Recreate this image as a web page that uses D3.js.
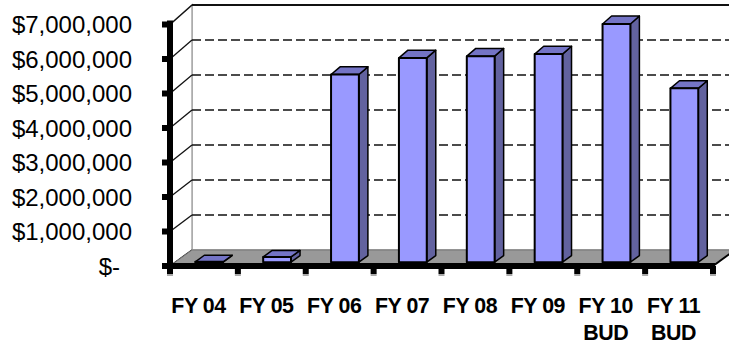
<!DOCTYPE html>
<html>
<head>
<meta charset="utf-8">
<script src="https://cdnjs.cloudflare.com/ajax/libs/d3/7.8.5/d3.min.js"></script>
<style>
  html, body { margin: 0; padding: 0; background: #fff; }
  svg { display: block; }
  text { font-family: Arial, 'Liberation Sans', sans-serif; fill: #000; }
</style>
</head>
<body>
<svg id="chart"></svg>
<script>
// chart data
let categories = ['FY 04', 'FY 05', 'FY 06', 'FY 07', 'FY 08', 'FY 09', 'FY 10 BUD', 'FY 11 BUD'];
let labelLines = [['FY 04'], ['FY 05'], ['FY 06'], ['FY 07'], ['FY 08'], ['FY 09'], ['FY 10', 'BUD'], ['FY 11', 'BUD']];
let values = [10000, 150000, 5420000, 5900000, 5950000, 6010000, 6880000, 5020000];
let tickValues = [0, 1000000, 2000000, 3000000, 4000000, 5000000, 6000000, 7000000];
let tickLabels = ['$-', '$1,000,000', '$2,000,000', '$3,000,000', '$4,000,000', '$5,000,000', '$6,000,000', '$7,000,000'];

let width = 729;
let height = 346;
let depthX = 22;      // how far the back wall sits to the right
let barFront = 0.24;  // bar depth, as fraction of the floor depth
let barBack = 0.65;

let svg = d3.select('#chart').attr('width', width).attr('height', height);

let xScale = d3.scaleBand().domain(categories).range([170, 713]).padding(0);
let yFront = d3.scaleLinear().domain([0, 7000000]).range([266, 24.5]);
let yBack = d3.scaleLinear().domain([0, 7000000]).range([250, 5]);

// point in the 3d box: x on front plane, value, depth fraction
let pt = (x, v, f) => [x + f * depthX, yFront(v) * (1 - f) + yBack(v) * f];
let poly = (pts) => pts.map((p) => p.join(',')).join(' ');

let x0 = xScale.range()[0];
let x1 = xScale.range()[1];
let vMax = 7000000;

// back wall
svg.append('polygon')
    .attr('points', poly([pt(x0, 0, 1), pt(x1, 0, 1), pt(x1, vMax, 1), pt(x0, vMax, 1)]))
    .attr('fill', '#fff')
    .attr('stroke', '#999')
    .attr('stroke-width', 1.5);

// left wall
svg.append('polygon')
    .attr('points', poly([pt(x0, 0, 0), pt(x0, 0, 1), pt(x0, vMax, 1), pt(x0, vMax, 0)]))
    .attr('fill', '#fff')
    .attr('stroke', '#aaa')
    .attr('stroke-width', 1.5);

// top edge of back wall
svg.append('line')
    .attr('x1', pt(x0, vMax, 1)[0]).attr('y1', pt(x0, vMax, 1)[1])
    .attr('x2', pt(x1, vMax, 1)[0]).attr('y2', pt(x1, vMax, 1)[1])
    .attr('stroke', '#111')
    .attr('stroke-width', 2);

// dashed gridlines on back wall
svg.selectAll('.grid')
    .data(tickValues.filter((v) => v > 0 && v < vMax))
    .enter()
    .append('line')
    .attr('class', 'grid')
    .attr('x1', (v) => pt(x0, v, 1)[0])
    .attr('y1', (v) => pt(x0, v, 1)[1])
    .attr('x2', (v) => pt(x1, v, 1)[0])
    .attr('y2', (v) => pt(x1, v, 1)[1])
    .attr('stroke', '#111')
    .attr('stroke-width', 1.6)
    .attr('stroke-dasharray', '9,4');

// diagonals on left wall
svg.selectAll('.diag')
    .data(tickValues)
    .enter()
    .append('line')
    .attr('class', 'diag')
    .attr('x1', (v) => pt(x0, v, 0)[0])
    .attr('y1', (v) => pt(x0, v, 0)[1])
    .attr('x2', (v) => pt(x0, v, 1)[0])
    .attr('y2', (v) => pt(x0, v, 1)[1])
    .attr('stroke', '#111')
    .attr('stroke-width', 1.3);

// floor
svg.append('polygon')
    .attr('points', poly([pt(x0, 0, 0), pt(x1, 0, 0), pt(x1, 0, 1), pt(x0, 0, 1)]))
    .attr('fill', '#999')
    .attr('stroke', '#777')
    .attr('stroke-width', 1);
svg.append('line')
    .attr('x1', pt(x1, 0, 0)[0]).attr('y1', pt(x1, 0, 0)[1])
    .attr('x2', pt(x1, 0, 1)[0]).attr('y2', pt(x1, 0, 1)[1])
    .attr('stroke', '#000')
    .attr('stroke-width', 2);

// bars
let barW = xScale.bandwidth() * 0.41;
let bars = svg.selectAll('.bar')
    .data(values)
    .enter()
    .append('g')
    .attr('class', 'bar');

bars.each(function (v, i) {
    let g = d3.select(this);
    let c = xScale(categories[i]) + xScale.bandwidth() / 2;
    let xl = c - barW / 2;
    let xr = c + barW / 2;
    g.append('polygon')
        .attr('points', poly([pt(xr, 0, barFront), pt(xr, 0, barBack), pt(xr, v, barBack), pt(xr, v, barFront)]))
        .attr('fill', '#62629f')
        .attr('stroke', '#000')
        .attr('stroke-width', 1.5)
        .attr('stroke-linejoin', 'round');
    g.append('polygon')
        .attr('points', poly([pt(xl, v, barFront), pt(xr, v, barFront), pt(xr, v, barBack), pt(xl, v, barBack)]))
        .attr('fill', '#7474c6')
        .attr('stroke', '#000')
        .attr('stroke-width', 1.5)
        .attr('stroke-linejoin', 'round');
    g.append('polygon')
        .attr('points', poly([pt(xl, 0, barFront), pt(xr, 0, barFront), pt(xr, v, barFront), pt(xl, v, barFront)]))
        .attr('fill', '#9999ff')
        .attr('stroke', '#000')
        .attr('stroke-width', 2)
        .attr('stroke-linejoin', 'round');
});

// value axis: thick line + ticks
svg.append('rect')
    .attr('x', x0 - 3).attr('y', yFront(vMax) - 4)
    .attr('width', 6).attr('height', yFront(0) - yFront(vMax) + 8)
    .attr('fill', '#000');
svg.selectAll('.ytick')
    .data(tickValues)
    .enter()
    .append('rect')
    .attr('class', 'ytick')
    .attr('x', x0 - 8)
    .attr('y', (v) => yFront(v) - 3)
    .attr('width', 6)
    .attr('height', 6)
    .attr('fill', '#000');

// category axis: thick line + ticks
svg.append('rect')
    .attr('x', x0 - 6).attr('y', yFront(0) - 3)
    .attr('width', x1 - x0 + 8).attr('height', 6)
    .attr('fill', '#000');
let bounds = categories.map((c) => xScale(c)).concat([x1]);
svg.selectAll('.xtickshadow')
    .data(bounds)
    .enter()
    .append('rect')
    .attr('x', (b) => b - 3)
    .attr('y', yFront(0) + 8)
    .attr('width', 6)
    .attr('height', 2)
    .attr('fill', '#aaa');
svg.selectAll('.xtick')
    .data(bounds)
    .enter()
    .append('rect')
    .attr('class', 'xtick')
    .attr('x', (b) => b - 3)
    .attr('y', yFront(0))
    .attr('width', 6)
    .attr('height', 8)
    .attr('fill', '#000');

// value labels
svg.selectAll('.ylabel')
    .data(tickValues)
    .enter()
    .append('text')
    .attr('class', 'ylabel')
    .attr('x', (v, i) => (v === 0 ? 120 : 132))
    .attr('y', (v) => yFront(v) + 8.5)
    .attr('text-anchor', 'end')
    .style('font-size', '24px')
    .text((v, i) => tickLabels[i]);

// category labels (tall, slightly condensed)
categories.forEach((c, i) => {
    let cx = xScale(c) + xScale.bandwidth() / 2 - 5.5;
    labelLines[i].forEach((line, j) => {
        svg.append('text')
            .attr('class', 'xlabel')
            .attr('text-anchor', 'middle')
            .attr('transform', `translate(${cx}, ${313 + j * 27}) scale(0.93, 1)`)
            .style('font-size', '23px')
            .style('font-weight', 'bold')
            .style('letter-spacing', '-0.5px')
            .text(line);
    });
});
</script>
</body>
</html>
